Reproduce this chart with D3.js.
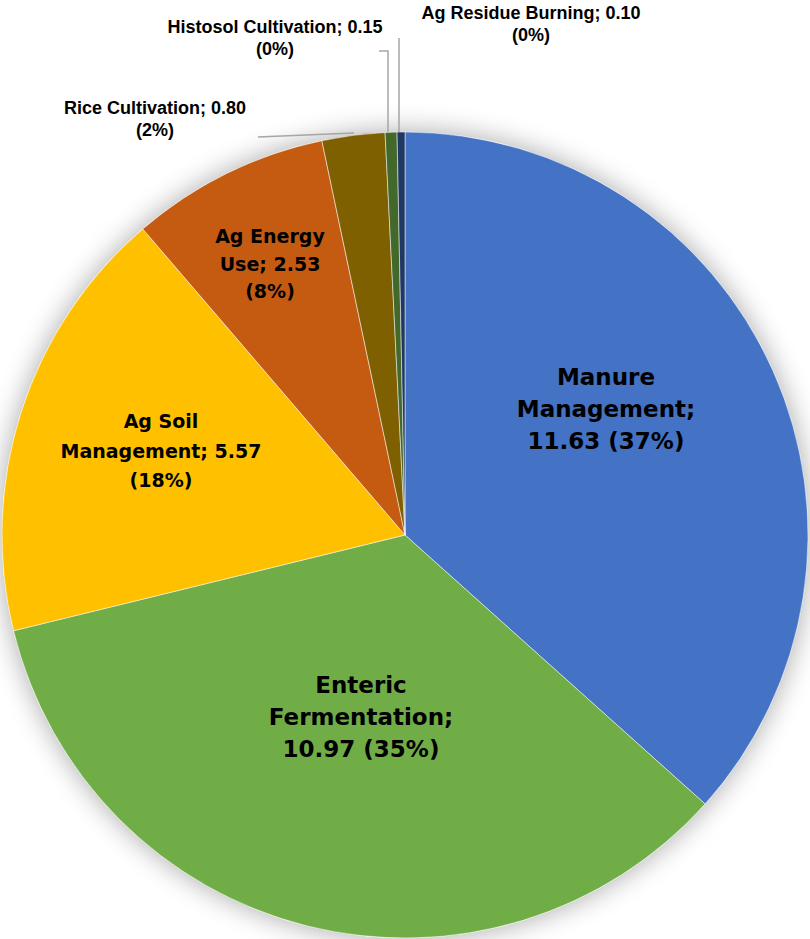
<!DOCTYPE html>
<html><head><meta charset="utf-8">
<script src="https://cdn.jsdelivr.net/npm/d3@7"></script>
<style>html,body{margin:0;padding:0;background:#fff;}svg{display:block;}</style>
</head><body>
<script>
const categories = ["Manure Management","Enteric Fermentation","Ag Soil Management","Ag Energy Use","Rice Cultivation","Histosol Cultivation","Ag Residue Burning"];
const values = [11.63,10.97,5.57,2.53,0.80,0.15,0.10];
const percents = ["37%","35%","18%","8%","2%","0%","0%"];
const colors = ["#4472C4","#70AD47","#FFC000","#C55A11","#7F6000","#43682B","#203864"];

const W=810,H=939,cx=405,cy=535,R=403;
const svg=d3.select("body").append("svg").attr("width",W).attr("height",H);
const defs=svg.append("defs");
const f=defs.append("filter").attr("id","sh").attr("x","-20%").attr("y","-20%").attr("width","140%").attr("height","140%");
f.append("feGaussianBlur").attr("in","SourceAlpha").attr("stdDeviation",14);
f.append("feOffset").attr("dx",0).attr("dy",0).attr("result","b");
f.append("feComponentTransfer").append("feFuncA").attr("type","linear").attr("slope",0.35);
const m=f.append("feMerge");m.append("feMergeNode");m.append("feMergeNode").attr("in","SourceGraphic");

const data=categories.map((c,i)=>({name:c,value:values[i],pct:percents[i],color:colors[i]}));
const pie=d3.pie().sort(null).value(d=>d.value);
const arcs=pie(data);
const arc=d3.arc().innerRadius(0).outerRadius(R);
const g=svg.append("g").attr("transform",`translate(${cx},${cy})`);
g.append("circle").attr("r",R).attr("fill","#fff").attr("filter","url(#sh)");
g.selectAll("path.s").data(arcs).enter().append("path").attr("class","s")
 .attr("d",arc).attr("fill",d=>d.data.color).attr("stroke","#fff").attr("stroke-width",0.5);

// inner labels: [index, lines, x, y-of-first-line, fontSize, lineHeight]
const inner=[
 [0,["Manure","Management;",`${values[0].toFixed(2)} (${percents[0]})`],606,385,23,32],
 [1,["Enteric","Fermentation;",`${values[1].toFixed(2)} (${percents[1]})`],361,693,23,32],
 [2,["Ag Soil",`Management; ${values[2].toFixed(2)}`,`(${percents[2]})`],161,428,19,29.5],
 [3,["Ag Energy",`Use; ${values[3].toFixed(2)}`,`(${percents[3]})`],270,243,19,27.5]
];
inner.forEach(([i,lines,x,y,fs,lh])=>{
  const t=svg.append("text").attr("text-anchor","middle").attr("font-family","'DejaVu Sans',sans-serif")
   .attr("font-weight","bold").attr("font-size",fs).attr("fill","#000");
  lines.forEach((l,k)=>t.append("tspan").attr("x",x).attr("y",y+k*lh).text(l));
});

// outer labels
const outer=[
 [4,[`${categories[4]}; ${values[4].toFixed(2)}`,`(${percents[4]})`],155,114],
 [5,[`${categories[5]}; ${values[5].toFixed(2)}`,`(${percents[5]})`],275,33],
 [6,[`${categories[6]}; ${values[6].toFixed(2)}`,`(${percents[6]})`],531,19]
];
outer.forEach(([i,lines,x,y])=>{
  const t=svg.append("text").attr("text-anchor","middle").attr("font-family","'Liberation Sans Narrow','Arial Narrow',sans-serif")
   .attr("font-weight","bold").attr("font-size",18).attr("fill","#000");
  lines.forEach((l,k)=>t.append("tspan").attr("x",x).attr("y",y+k*22).text(l));
});

// leader lines
const leaders=[
 [[258,137],[354,133]],
 [[379,51],[388,51],[388,132]],
 [[399,38],[399,132]]
];
leaders.forEach(p=>svg.append("path").attr("d",d3.line()(p)).attr("fill","none").attr("stroke","#A6A6A6").attr("stroke-width",1.5));
</script>
</body></html>
